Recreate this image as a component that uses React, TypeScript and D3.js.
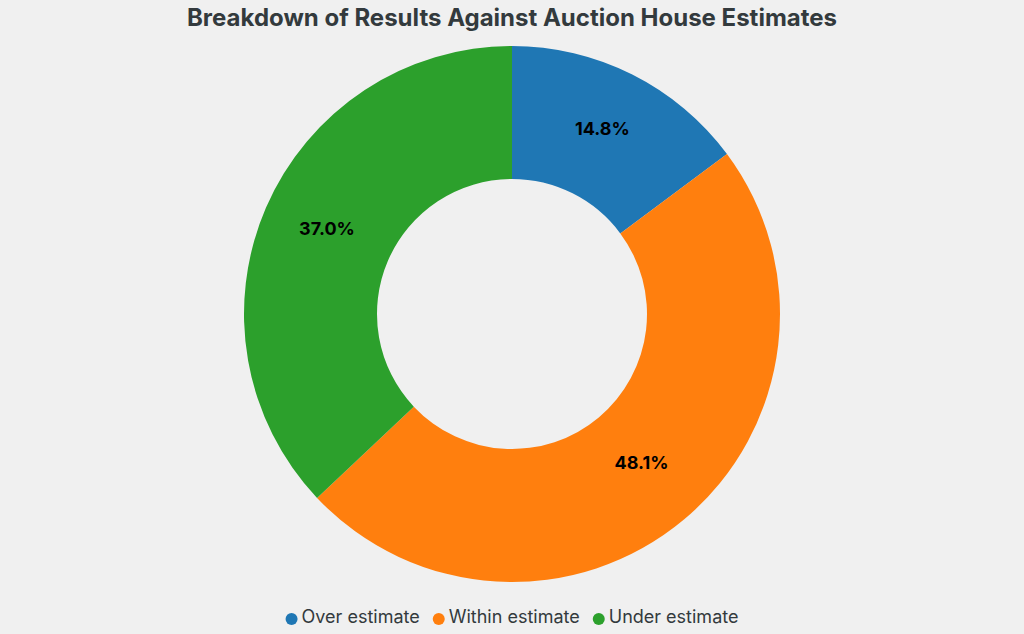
import React, { useEffect, useRef } from "react";
import * as d3 from "d3";

const categories = ["Over estimate", "Within estimate", "Under estimate"];
const counts = [4, 13, 10];
const colors = ["#1f77b4", "#ff7f0e", "#2ca02c"];
const title = "Breakdown of Results Against Auction House Estimates";

const W = 1024;
const H = 634;

export default function App() {
  const ref = useRef<SVGSVGElement | null>(null);

  useEffect(() => {
    const svg = d3.select(ref.current);
    svg.selectAll("*").remove();
    const font = "Inter, 'Noto Sans', sans-serif";

    svg.append("rect").attr("width", W).attr("height", H).attr("fill", "#f0f0f0");

    svg
      .append("text")
      .attr("x", W / 2)
      .attr("y", 26)
      .attr("text-anchor", "middle")
      .attr("font-family", font)
      .attr("font-weight", 700)
      .attr("font-size", 24)
      .attr("fill", "#333a3d")
      .text(title);

    const cx = 512, cy = 314, outerR = 268, innerR = 135;
    const total = d3.sum(counts);
    const pie = d3.pie<number>().sort(null).value((d) => d);
    const arcs = pie(counts);
    const arc = d3.arc<d3.PieArcDatum<number>>().innerRadius(innerR).outerRadius(outerR);

    const g = svg.append("g").attr("transform", `translate(${cx},${cy})`);
    g.selectAll("path")
      .data(arcs)
      .enter()
      .append("path")
      .attr("d", arc as any)
      .attr("fill", (_d, i) => colors[i]);

    g.selectAll("text.lbl")
      .data(arcs)
      .enter()
      .append("text")
      .attr("class", "lbl")
      .attr("transform", (d) => {
        const [x, y] = arc.centroid(d);
        return `translate(${x},${y - 5.5})`;
      })
      .attr("text-anchor", "middle")
      .attr("dy", "0.35em")
      .attr("font-family", font)
      .attr("font-weight", 700)
      .attr("font-size", 18)
      .attr("fill", "#000")
      .text((d) => ((d.data / total) * 100).toFixed(1) + "%");

    // legend
    const canvas = document.createElement("canvas");
    const ctx = canvas.getContext("2d")!;
    ctx.font = `18px ${font}`;
    const r = 6, gapText = 4, gapItem = 13;
    const widths = categories.map((c) => 2 * r + gapText + ctx.measureText(c).width);
    const totalW = d3.sum(widths) + gapItem * (categories.length - 1);
    let x = W / 2 - totalW / 2;
    const ly = 617;
    const leg = svg.append("g");
    categories.forEach((c, i) => {
      leg.append("circle").attr("cx", x + r).attr("cy", ly + 2).attr("r", r).attr("fill", colors[i]);
      leg
        .append("text")
        .attr("x", x + 2 * r + gapText)
        .attr("y", ly)
        .attr("dy", "0.35em")
        .attr("font-family", font)
        .attr("font-size", 18)
        .attr("fill", "#333a3d")
        .text(c);
      x += widths[i] + gapItem;
    });
  }, []);

  return (
    <svg
      ref={ref}
      width={W}
      height={H}
      style={{ position: "absolute", left: 0, top: 0, display: "block" }}
    />
  );
}
